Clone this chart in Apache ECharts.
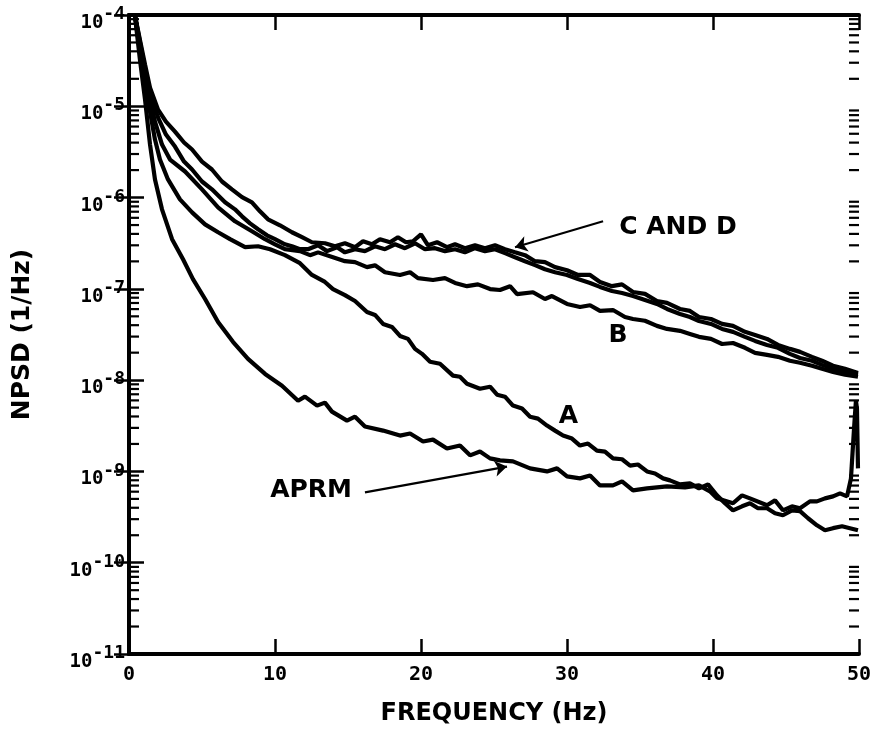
<!DOCTYPE html>
<html>
<head>
<meta charset="utf-8">
<script src="https://cdn.jsdelivr.net/npm/echarts@6/dist/echarts.min.js"></script>
<style>html,body{margin:0;padding:0;background:#fff}#c{width:876px;height:731px}</style>
</head>
<body>
<div id="c"></div>
<script>
// ---- Data (frequency in Hz, NPSD in 1/Hz) ----
const aprmF = [0.4,0.75,1.10,1.44,1.78,2.26,2.95,3.70,4.38,5.21,6.10,7.12,8.15,9.32,10.48,11.58,12.05,12.88,13.42,13.90,14.93,15.48,16.16,17.40,18.56,19.25,20.14,20.82,21.78,22.67,23.36,24.04,24.73,25.41,26.30,27.47,28.63,29.32,30.00,30.89,31.58,32.26,33.15,33.77,34.52,35.48,36.85,38.08,39.04,39.79,40.27,41.37,41.99,42.53,43.70,44.25,44.79,45.41,45.96,46.64,47.12,47.67,48.22,48.70,49.18,49.45,49.66,49.79,49.86,49.93];
const aprmV = [1e-4,3.23e-5,1.18e-5,3.81e-6,1.58e-6,7.43e-7,3.50e-7,2.11e-7,1.28e-7,7.74e-8,4.34e-8,2.63e-8,1.71e-8,1.17e-8,8.69e-9,5.95e-9,6.59e-9,5.26e-9,5.67e-9,4.52e-9,3.60e-9,3.98e-9,3.10e-9,2.80e-9,2.47e-9,2.60e-9,2.13e-9,2.23e-9,1.78e-9,1.92e-9,1.50e-9,1.65e-9,1.39e-9,1.32e-9,1.29e-9,1.08e-9,1.00e-9,1.08e-9,8.81e-10,8.39e-10,9.04e-10,7.03e-10,7.03e-10,7.78e-10,6.21e-10,6.52e-10,6.85e-10,6.68e-10,7.03e-10,6.05e-10,5.07e-10,4.48e-10,5.47e-10,5.07e-10,4.26e-10,4.82e-10,3.75e-10,4.15e-10,3.95e-10,4.70e-10,4.70e-10,5.07e-10,5.33e-10,5.75e-10,5.33e-10,8.39e-10,2.94e-9,5.95e-9,4.88e-9,1.08e-9];

const aF = [0.4,0.75,1.10,1.44,1.78,2.12,2.67,3.49,4.32,5.21,6.10,6.92,7.95,8.84,9.66,10.68,11.71,12.53,13.42,13.97,14.79,15.48,16.30,16.85,17.40,18.01,18.56,19.11,19.59,20.07,20.62,21.30,22.19,22.67,23.15,24.04,24.73,25.21,25.75,26.30,26.92,27.47,28.01,28.63,29.18,29.73,30.34,30.89,31.44,32.05,32.60,33.15,33.77,34.32,34.86,35.48,36.03,36.58,37.05,37.74,38.42,39.04,39.66,40.27,40.82,41.37,41.99,42.53,43.08,43.70,44.25,44.79,45.41,45.96,46.51,47.12,47.67,48.22,48.84,49.38,49.93];
const aV = [1e-4,4.15e-5,1.95e-5,8.73e-6,4.32e-6,2.61e-6,1.58e-6,9.55e-7,6.89e-7,5.09e-7,4.17e-7,3.50e-7,2.86e-7,2.93e-7,2.72e-7,2.34e-7,1.91e-7,1.42e-7,1.19e-7,9.95e-8,8.55e-8,7.36e-8,5.58e-8,5.18e-8,4.13e-8,3.83e-8,3.05e-8,2.83e-8,2.20e-8,1.94e-8,1.59e-8,1.51e-8,1.12e-8,1.09e-8,9.14e-9,8.05e-9,8.47e-9,6.93e-9,6.59e-9,5.26e-9,4.88e-9,3.98e-9,3.79e-9,3.18e-9,2.80e-9,2.47e-9,2.29e-9,1.92e-9,2.02e-9,1.69e-9,1.65e-9,1.39e-9,1.36e-9,1.16e-9,1.19e-9,1.00e-9,9.51e-10,8.39e-10,7.98e-10,7.22e-10,7.39e-10,6.52e-10,7.22e-10,5.47e-10,4.48e-10,3.75e-10,4.15e-10,4.48e-10,3.95e-10,3.95e-10,3.48e-10,3.31e-10,3.75e-10,3.67e-10,3.07e-10,2.57e-10,2.27e-10,2.39e-10,2.51e-10,2.39e-10,2.27e-10];

const bF = [0.4,0.75,1.10,1.44,1.78,2.26,2.81,3.84,5.00,6.10,7.26,8.42,9.32,10.00,10.68,11.71,12.40,12.95,13.97,14.79,15.48,16.30,16.85,17.53,18.56,19.25,19.79,20.82,21.64,22.33,23.15,23.90,24.73,25.41,26.10,26.58,27.67,28.49,28.97,30.00,30.89,31.58,32.26,33.15,33.97,34.52,35.34,36.16,36.85,37.74,38.42,39.04,39.86,40.62,41.37,42.19,42.88,43.70,44.45,45.27,45.96,46.78,47.47,48.22,49.04,49.93];
const bV = [1e-4,4.70e-5,2.21e-5,1.18e-5,6.79e-6,3.81e-6,2.61e-6,1.93e-6,1.23e-6,7.82e-7,5.50e-7,4.27e-7,3.50e-7,3.08e-7,2.72e-7,2.59e-7,2.34e-7,2.51e-7,2.22e-7,2.01e-7,1.96e-7,1.73e-7,1.81e-7,1.52e-7,1.42e-7,1.52e-7,1.31e-7,1.25e-7,1.31e-7,1.16e-7,1.07e-7,1.12e-7,9.95e-8,9.71e-8,1.07e-7,8.77e-8,9.18e-8,7.74e-8,8.34e-8,6.83e-8,6.32e-8,6.61e-8,5.73e-8,5.86e-8,4.92e-8,4.68e-8,4.47e-8,3.93e-8,3.64e-8,3.47e-8,3.21e-8,2.98e-8,2.83e-8,2.49e-8,2.55e-8,2.26e-8,1.99e-8,1.89e-8,1.80e-8,1.63e-8,1.55e-8,1.44e-8,1.33e-8,1.23e-8,1.15e-8,1.09e-8];

const cF = [0.4,0.75,1.10,1.44,1.99,2.53,3.15,3.77,4.32,5.00,5.68,6.37,7.05,7.74,8.42,8.97,9.52,10.34,11.16,11.85,12.53,13.42,14.11,14.79,15.48,16.03,16.64,17.19,17.88,18.42,18.97,19.45,20.00,20.48,21.10,21.78,22.33,23.01,23.70,24.38,25.07,25.75,26.44,27.12,27.81,28.49,29.18,30.00,30.75,31.58,32.26,33.08,33.77,34.52,35.34,36.16,36.85,37.74,38.42,39.04,39.86,40.62,41.37,42.19,42.88,43.70,44.45,45.27,45.96,46.78,47.47,48.22,49.04,49.93];
const cV = [1e-4,5.33e-5,2.85e-5,1.60e-5,9.19e-6,6.79e-6,5.28e-6,4.01e-6,3.36e-6,2.48e-6,2.03e-6,1.50e-6,1.23e-6,1.01e-6,8.87e-7,7.07e-7,5.78e-7,4.97e-7,4.17e-7,3.68e-7,3.24e-7,3.16e-7,2.93e-7,3.16e-7,2.86e-7,3.32e-7,3.08e-7,3.50e-7,3.24e-7,3.68e-7,3.24e-7,3.32e-7,3.96e-7,3.00e-7,3.24e-7,2.86e-7,3.08e-7,2.79e-7,3.00e-7,2.79e-7,3.00e-7,2.72e-7,2.52e-7,2.34e-7,2.01e-7,1.96e-7,1.73e-7,1.60e-7,1.42e-7,1.42e-7,1.19e-7,1.07e-7,1.12e-7,9.23e-8,8.81e-8,7.36e-8,7.02e-8,6.02e-8,5.73e-8,4.92e-8,4.68e-8,4.13e-8,3.93e-8,3.38e-8,3.13e-8,2.83e-8,2.43e-8,2.20e-8,2.04e-8,1.80e-8,1.63e-8,1.44e-8,1.33e-8,1.20e-8];

const dF = [0.4,0.75,1.10,1.44,1.99,2.53,3.15,3.77,4.32,5.00,5.68,6.58,7.26,7.74,8.29,8.84,9.45,10.00,10.68,11.16,11.71,12.26,12.95,13.56,14.25,14.79,15.48,16.16,16.85,17.53,18.22,18.90,19.59,20.27,20.96,21.64,22.33,23.01,23.70,24.38,25.07,25.75,26.44,27.12,27.81,28.49,29.18,30.00,30.75,31.58,32.26,33.08,33.77,34.52,35.34,36.16,36.85,37.74,38.42,39.04,39.86,40.62,41.37,42.19,42.88,43.70,44.45,45.27,45.96,46.78,47.47,48.22,49.04,49.93];
const dV = [1e-4,5.07e-5,2.51e-5,1.34e-5,7.52e-6,4.90e-6,3.62e-6,2.48e-6,2.03e-6,1.50e-6,1.23e-6,8.87e-7,7.43e-7,6.23e-7,5.22e-7,4.50e-7,3.86e-7,3.50e-7,3.08e-7,2.93e-7,2.72e-7,2.72e-7,3.00e-7,2.59e-7,2.86e-7,2.51e-7,2.72e-7,2.59e-7,2.93e-7,2.72e-7,3.08e-7,2.79e-7,3.16e-7,2.72e-7,2.79e-7,2.59e-7,2.72e-7,2.51e-7,2.79e-7,2.59e-7,2.72e-7,2.46e-7,2.22e-7,2.01e-7,1.82e-7,1.64e-7,1.52e-7,1.42e-7,1.28e-7,1.16e-7,1.05e-7,9.46e-8,9.00e-8,8.34e-8,7.55e-8,6.83e-8,6.02e-8,5.31e-8,4.92e-8,4.45e-8,4.13e-8,3.64e-8,3.38e-8,2.98e-8,2.69e-8,2.43e-8,2.26e-8,1.94e-8,1.75e-8,1.63e-8,1.47e-8,1.33e-8,1.23e-8,1.15e-8];

// Curve labels and arrows (data coordinates)
const labelNames = ['C AND D', 'B', 'A', 'APRM'];
const labelF = [37.6, 33.5, 30.1, 12.47];
const labelV = [4.73e-7, 3.05e-8, 3.98e-9, 6.2e-10];
const arrowFrom = [[32.47, 5.5e-7], [16.16, 5.9e-10]];
const arrowTo = [[26.44, 2.86e-7], [25.89, 1.13e-9]];
const arrowCurve = [-0.25, -0.08];

// Axis definitions
const xTicks = [0, 10, 20, 30, 40, 50];
const yMin = 1e-11, yMax = 1e-4;
const minorMantissas = [2, 3, 4, 5, 6, 7, 8, 9];

// log-axis minor tick values (2..9 x each decade)
const minorTickValues = [];
for (let e = Math.round(Math.log10(yMin)); e < Math.round(Math.log10(yMax)); e++) {
  minorMantissas.forEach(m => minorTickValues.push([m * Math.pow(10, e)]));
}

const zip = (f, v) => f.map((x, i) => [x, v[i]]);
const black = '#000';
const lineSeries = (name, f, v) => ({
  name, type: 'line', data: zip(f, v), showSymbol: false, symbol: 'none',
  lineStyle: { color: black, width: 4.2 }, silent: true, animation: false
});

const chart = echarts.init(document.getElementById('c'), null, { renderer: 'canvas' });
const axisLineStyle = { show: true, lineStyle: { color: black, width: 4 } };
const majorTick = { show: true, inside: true, length: 15, lineStyle: { color: black, width: 2.5 } };

const arrowSeries = i => ({
  name: 'arrow' + i, type: 'line', data: [], silent: true,
  markLine: {
    silent: true, animation: false, symbol: ['none', 'arrow'], symbolSize: 12,
    label: { show: false },
    lineStyle: { color: black, width: 2.2, type: 'solid', curveness: arrowCurve[i] },
    itemStyle: { color: black },
    data: [[{ coord: arrowFrom[i] }, { coord: arrowTo[i] }]]
  }
});

chart.setOption({
  backgroundColor: '#fff',
  animation: false,
  grid: { left: 129, right: 17, top: 15, bottom: 75, containLabel: false },
  xAxis: [{
    type: 'value', min: xTicks[0], max: xTicks[xTicks.length - 1], interval: 10,
    position: 'bottom',
    axisLine: axisLineStyle,
    axisTick: majorTick,
    axisLabel: { show: true, margin: 11, color: black, fontFamily: 'DejaVu Sans Mono', fontWeight: 'bold', fontSize: 20 },
    splitLine: { show: false },
    name: 'FREQUENCY (Hz)', nameLocation: 'middle', nameGap: 48,
    nameTextStyle: { color: black, fontFamily: 'DejaVu Sans', fontWeight: 'bold', fontSize: 24 }
  }, {
    type: 'value', min: xTicks[0], max: xTicks[xTicks.length - 1], interval: 10,
    position: 'top',
    axisLine: axisLineStyle,
    axisTick: majorTick,
    axisLabel: { show: false }, splitLine: { show: false }
  }],
  yAxis: [{
    type: 'log', logBase: 10, min: yMin, max: yMax, interval: 1,
    position: 'left',
    axisLine: axisLineStyle,
    axisTick: majorTick,
    minorTick: { show: false },
    splitLine: { show: false },
    axisLabel: {
      show: true, margin: 4, showMinLabel: true, showMaxLabel: true, hideOverlap: false,
      padding: [8, 0, 0, 0],
      formatter: v => '{b|10}{s|' + Math.round(Math.log10(v)) + '}',
      rich: {
        b: { fontFamily: 'DejaVu Sans Mono', fontWeight: 'bold', fontSize: 19, color: black, verticalAlign: 'bottom', lineHeight: 27 },
        s: { fontFamily: 'DejaVu Sans Mono', fontWeight: 'bold', fontSize: 18, color: black, verticalAlign: 'top', lineHeight: 27 }
      }
    },
    name: 'NPSD (1/Hz)', nameLocation: 'middle', nameGap: 94, nameRotate: 90,
    nameTextStyle: { color: black, fontFamily: 'DejaVu Sans', fontWeight: 'bold', fontSize: 25 }
  }, {
    type: 'log', logBase: 10, min: yMin, max: yMax, interval: 1,
    position: 'right',
    axisLine: axisLineStyle,
    axisTick: majorTick,
    minorTick: { show: false },
    splitLine: { show: false },
    axisLabel: { show: false }
  }],
  series: [
    lineSeries('APRM', aprmF, aprmV),
    lineSeries('A', aF, aV),
    lineSeries('B', bF, bV),
    lineSeries('C', cF, cV),
    lineSeries('D', dF, dV),
    {
      name: 'minorTicks', type: 'custom', silent: true, clip: false,
      data: minorTickValues,
      encode: { y: 0 },
      renderItem: (params, api) => {
        const v = api.value(0);
        const left = api.coord([xTicks[0], v]);
        const right = api.coord([xTicks[xTicks.length - 1], v]);
        const st = { stroke: black, lineWidth: 2.2 };
        return {
          type: 'group',
          children: [
            { type: 'line', shape: { x1: left[0], y1: left[1], x2: left[0] + 10, y2: left[1] }, style: st },
            { type: 'line', shape: { x1: right[0] - 10, y1: right[1], x2: right[0], y2: right[1] }, style: st }
          ]
        };
      }
    },
    {
      name: 'labels', type: 'line', data: [], silent: true,
      markPoint: {
        symbol: 'circle', symbolSize: 1, silent: true, animation: false,
        itemStyle: { color: 'rgba(0,0,0,0)' },
        label: { show: true, position: 'inside', color: black, fontFamily: 'DejaVu Sans', fontWeight: 'bold', fontSize: 25, formatter: p => p.name },
        data: labelNames.map((n, i) => ({ name: n, coord: [labelF[i], labelV[i]] }))
      }
    },
    arrowSeries(0),
    arrowSeries(1)
  ]
});
</script>
</body>
</html>
